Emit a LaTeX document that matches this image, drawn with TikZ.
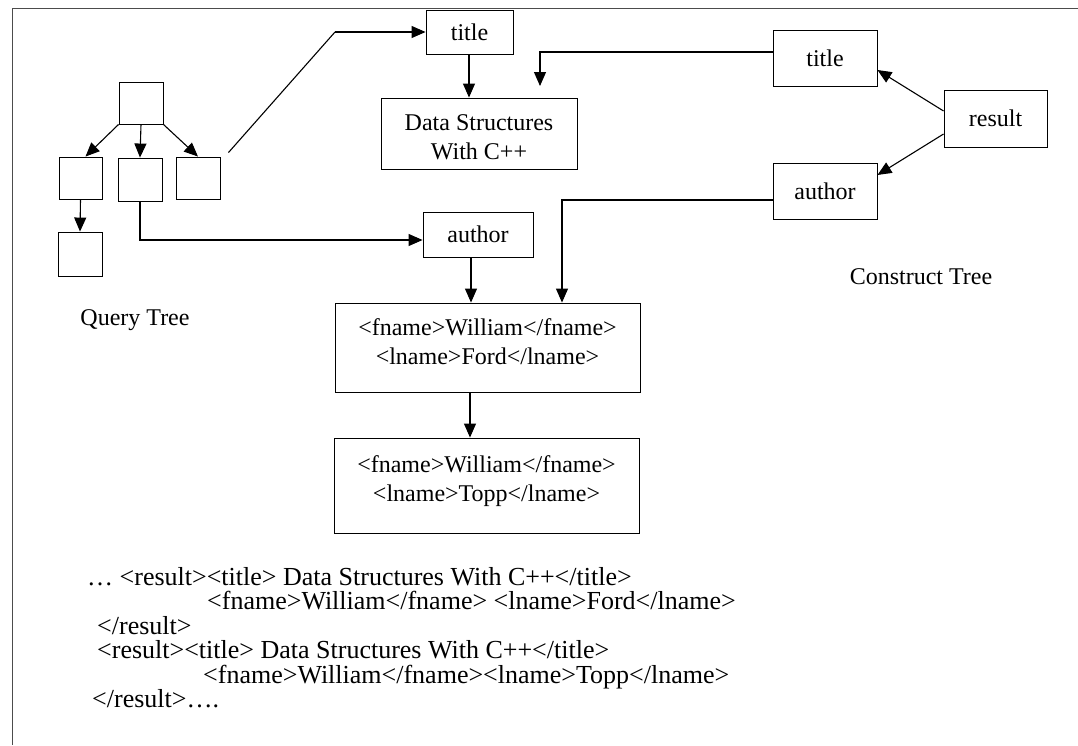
\documentclass[tikz,border=0pt]{standalone}
\usepackage{fontspec}
\setmainfont{Liberation Serif}
\usetikzlibrary{arrows.meta,calc}

\tikzset{
  box/.style={draw, line width=0.9pt, inner sep=0pt, align=center},
  boxtext/.style={inner sep=0pt, align=center},
  conn/.style={line width=1.1pt},
  arr/.style={conn, -{Triangle[length=14pt,width=12pt]}},
  caption/.style={inner sep=0pt},
  xmlline/.style={inner sep=0pt, anchor=base west, font=\fontsize{26pt}{30pt}\selectfont}
}

\begin{document}
\begin{tikzpicture}[x=1pt, y=-1pt, font=\fontsize{24pt}{29pt}\selectfont]
\useasboundingbox (0,0) rectangle (1078,745);

% page frame (top and left rule)
\draw[line width=0.8pt, black!70] (1078,8) -- (12,8) -- (12,745);

% ---------- query tree ----------
\node[box, minimum width=44pt, minimum height=42pt] (qroot) at (141,103) {};
\node[box, minimum width=43pt, minimum height=42pt] (qc1) at (80.5,178) {};
\node[box, minimum width=44pt, minimum height=43pt] (qc2) at (140,179.5) {};
\node[box, minimum width=44pt, minimum height=42pt] (qc3) at (198,178) {};
\node[box, minimum width=44pt, minimum height=44pt] (qgc) at (80,254) {};
\node[caption] (qlabel) at (135,320) {Query Tree};

\draw[arr] (qroot.south west) -- ([xshift=5pt]qc1.north);
\draw[arr] (qroot.south) -- (qc2.north);
\draw[arr] (qroot.south east) -- (qc3.north);
\draw[arr] (qc1.south) -- (qgc.north);

% ---------- matched data ----------
\node[box, minimum width=87pt, minimum height=44pt] (ttitle) at (469.5,32) {title};
\node[box, minimum width=196pt, minimum height=71pt] (ds) at (479,133.5) {};
\node[boxtext] (dstext) at ([yshift=-4pt]ds.center) {Data Structures\\With C++};
\node[box, minimum width=110pt, minimum height=45pt] (tauthor) at (478,234.5) {author};
\node[box, minimum width=305pt, minimum height=89pt] (ford) at (487.5,347.5) {};
\node[boxtext] (fordtext) at ([yshift=6pt]ford.center) {<fname>William</fname>\\<lname>Ford</lname>};
\node[box, minimum width=305pt, minimum height=95pt] (topp) at (486.5,485.5) {};
\node[boxtext] (topptext) at ([yshift=4pt]topp.center) {<fname>William</fname>\\<lname>Topp</lname>};

\coordinate (bendq) at (335,32);
\draw[conn] ([shift={(8,-4)}]qc3.north east) -- (bendq);
\draw[arr] (bendq) -- (ttitle.west);
\draw[arr] (qc2.south) |- ([yshift=-5.5pt]tauthor.west);
\draw[arr] ([xshift=-0.5pt]ttitle.south) -- (ds.north -| 469,0);
\draw[arr] (tauthor.south -| 471,0) -- (ford.north -| 471,0);
\draw[arr] (ford.south -| 470,0) -- (topp.north -| 470,0);

% ---------- construct tree ----------
\node[box, minimum width=104pt, minimum height=56pt] (ctitle) at (825,58) {title};
\node[box, minimum width=103pt, minimum height=57pt] (cresult) at (995.5,118.5) {result};
\node[box, minimum width=104pt, minimum height=56pt] (cauthor) at (825,191) {author};
\node[caption] (clabel) at (921,277) {Construct Tree};

\draw[arr] ([yshift=7.5pt]cresult.west) -- ([yshift=-12pt]ctitle.east);
\draw[arr] ([yshift=-15.5pt]cresult.west) -- ([yshift=16pt]cauthor.east);

\coordinate (dsdrop) at (540,86);
\draw[arr] ([yshift=6pt]ctitle.west) -| (dsdrop);
\draw[arr] ([yshift=-9pt]cauthor.west) -| ([xshift=74.5pt]ford.north);

% ---------- constructed output ----------
\node[xmlline] (o1) at (87,585) {… <result><title> Data Structures With C++</title>};
\node[xmlline] (o2) at (207,609.5) {<fname>William</fname> <lname>Ford</lname>};
\node[xmlline] (o3) at (97,634) {</result>};
\node[xmlline] (o4) at (97,658.5) {<result><title> Data Structures With C++</title>};
\node[xmlline] (o5) at (203,683) {<fname>William</fname><lname>Topp</lname>};
\node[xmlline] (o6) at (92,707.5) {</result>….};
\end{tikzpicture}
\end{document}
